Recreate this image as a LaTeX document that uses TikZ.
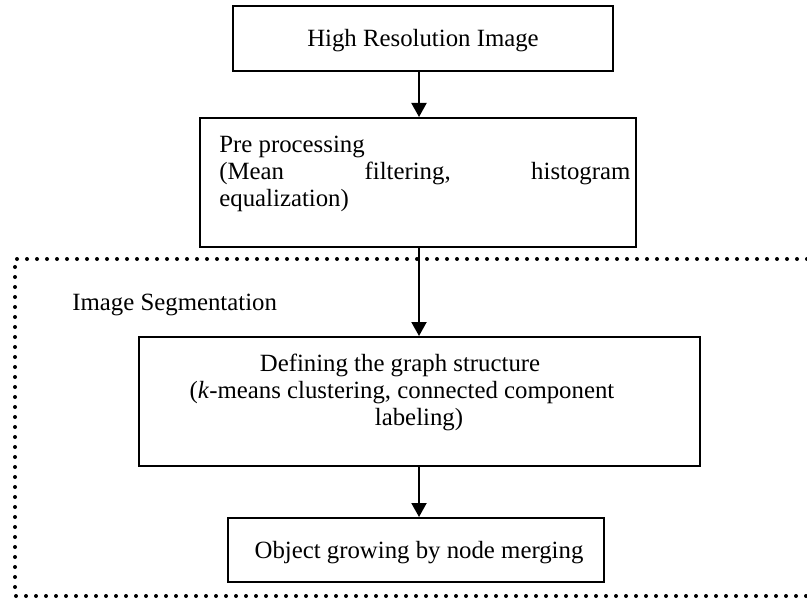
\documentclass[tikz,border=0pt]{standalone}
\usepackage{fontspec}
\setmainfont{Liberation Serif}
\usetikzlibrary{arrows.meta}
\begin{document}
\begin{tikzpicture}[x=0.5pt,y=-0.5pt,
  box/.style={draw,line width=1pt,rectangle,inner sep=0pt},
  lbl/.style={inner sep=0pt,font=\fontsize{12.4}{13.5}\selectfont},
  arr/.style={line width=1pt,-{Triangle[length=7pt,width=7.5pt]}},
  dotframe/.style={line width=2pt,line cap=round,dash pattern=on 0pt off 5pt}]
\useasboundingbox (0,0) rectangle (807,599);
% dotted frame
\coordinate (fr1) at (807,259);
\coordinate (fr2) at (15,259);
\coordinate (fr3) at (15,596);
\coordinate (fr4) at (807,596);
\draw[dotframe] (fr1) -- (fr2) -- (fr3) -- (fr4);
% boxes
\node[box,fill=white,minimum width=190pt,minimum height=32.5pt] (b1) at (423,38.5) {};
\node[box,fill=white,minimum width=218pt,minimum height=64.5pt] (b2) at (418,182.5) {};
\node[box,minimum width=280.5pt,minimum height=64.5pt] (b3) at (419.5,401.5) {};
\node[box,minimum width=188pt,minimum height=32pt] (b4) at (416,550) {};
% texts
\node[lbl,anchor=base] (t1) at (423,47) {High Resolution Image};
\node[lbl,anchor=base west] (t2a) at (219,152) {Pre processing};
\node[lbl,anchor=base west] (t2b) at (219,179) {\hbox to 205.5pt{(Mean\hfill filtering,\hfill histogram}};
\node[lbl,anchor=base west] (t2c) at (219,206) {equalization)};
\node[lbl,anchor=base west] (seg) at (72,310) {Image Segmentation};
\node[lbl,anchor=base] (t3a) at (400,371) {Defining the graph structure};
\node[lbl,anchor=base] (t3b) at (402,398) {(\textit{k}-means clustering, connected component};
\node[lbl,anchor=base] (t3c) at (419,425) {labeling)};
\node[lbl,anchor=base] (t4) at (419,558) {Object growing by node merging};
% connectors
\coordinate (axis) at (419,0);
\draw[arr] (b1.south -| axis) -- (b2.north -| axis);
\draw[arr] (b2.south -| axis) -- (b3.north -| axis);
\draw[arr] (b3.south -| axis) -- (b4.north -| axis);
\end{tikzpicture}
\end{document}
